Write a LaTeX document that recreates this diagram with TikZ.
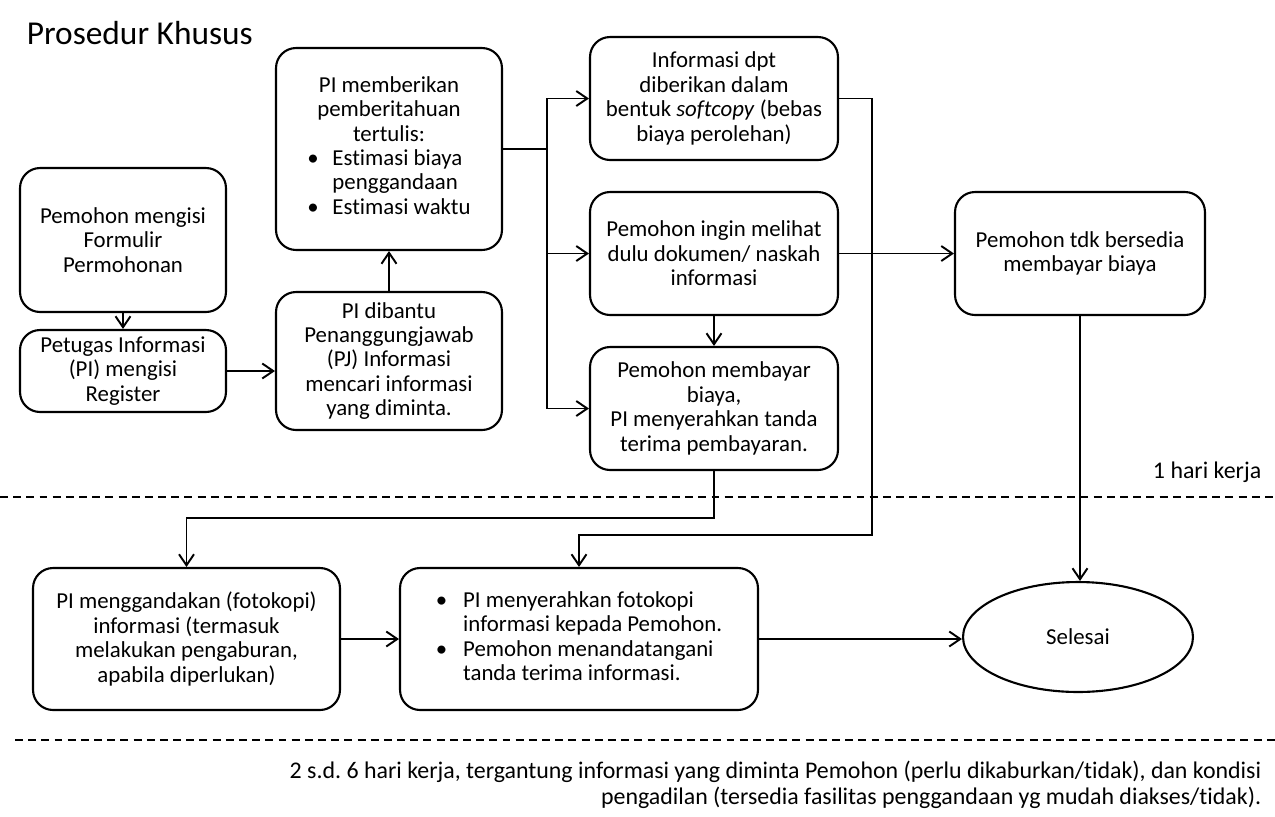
\documentclass[tikz,border=0pt]{standalone}
\usepackage{fontspec}
\setmainfont{Carlito}[Ligatures=NoCommon]
\usetikzlibrary{arrows.meta,shapes.geometric}
\frenchspacing

\begin{document}
\begin{tikzpicture}[x=0.02cm, y=-0.02cm, line width=1.1pt,
    every node/.style={font=\fontsize{13}{13.9}\selectfont},
    >={Straight Barb[length=2.2mm,width=3mm]},
    procbox/.style={draw, rounded corners=0.4cm, align=center, line width=1.2pt, inner sep=2pt},
    dashline/.style={dash pattern=on 4.5pt off 3pt, line width=1.2pt},
    note/.style={font=\fontsize{13.6}{14.8}\selectfont, align=right}]

    \useasboundingbox (0,0) rectangle (1275,816);

    % Title
    \node[anchor=west, font=\fontsize{19}{22}\selectfont] (title) at (20,33) {Prosedur Khusus};

    % Left column
    \node[procbox, minimum width=4.12cm, minimum height=2.88cm] (isi) at (123,240) {Pemohon mengisi\\Formulir\\Permohonan};
    \node[procbox, minimum width=4.12cm, minimum height=1.64cm] (reg) at (123,371) {Petugas Informasi\\(PI) mengisi\\Register};

    % Second column
    \node[procbox, minimum width=4.52cm, minimum height=2.76cm] (cari) at (389,361) {PI dibantu\\Penanggungjawab\\(PJ) Informasi\\mencari informasi\\yang diminta.};
    \node[procbox, minimum width=4.52cm, minimum height=4.04cm] (tulis) at (389,149) {PI memberikan\\pemberitahuan\\tertulis:\\
        \begin{tabular}[t]{@{}l@{\hspace{0.6em}}l@{}}\textbullet & Estimasi biaya\\ & penggandaan\\ \textbullet & Estimasi waktu\end{tabular}};

    % Third column
    \node[procbox, minimum width=4.96cm, minimum height=2.46cm] (soft) at (714,98.5) {Informasi dpt\\diberikan dalam\\bentuk \textit{softcopy} (bebas\\biaya perolehan)};
    \node[procbox, minimum width=4.96cm, minimum height=2.46cm] (lihat) at (714,253.5) {Pemohon ingin melihat\\dulu dokumen/ naskah\\informasi};
    \node[procbox, minimum width=4.96cm, minimum height=2.46cm] (bayar) at (714,408.5) {Pemohon membayar\\biaya,\\PI menyerahkan tanda\\terima pembayaran.};

    % Right column
    \node[procbox, minimum width=5cm, minimum height=2.46cm] (tolak) at (1080,253.5) {Pemohon tdk bersedia\\membayar biaya};

    % Lower row
    \node[procbox, minimum width=6.14cm, minimum height=2.84cm] (ganda) at (186.5,639) {PI menggandakan (fotokopi)\\informasi (termasuk\\melakukan pengaburan,\\apabila diperlukan)};
    \node[procbox, minimum width=7.16cm, minimum height=2.84cm] (serah) at (579,639) {\begin{tabular}{@{}l@{\hspace{0.7em}}l@{}}\textbullet & PI menyerahkan fotokopi\\ & informasi kepada Pemohon.\\ \textbullet & Pemohon menandatangani\\ & tanda terima informasi.\end{tabular}};
    \node[draw, ellipse, line width=1.2pt, minimum width=4.6cm, minimum height=2.2cm] (selesai) at (1078,637) {Selesai};

    % Time limits
    \draw[dashline] (0,497) -- (1275,497);
    \draw[dashline] (15,740) -- (1275,740);
    \node[note, anchor=east] (sehari) at (1268,472) {1 hari kerja};
    \node[note, anchor=east] (durasi) at (1268,785) {2 s.d. 6 hari kerja, tergantung informasi yang diminta Pemohon (perlu dikaburkan/tidak), dan kondisi\\pengadilan (tersedia fasilitas penggandaan yg mudah diakses/tidak).};

    % Connectors
    \coordinate (cabang) at (547,149);
    \coordinate (belok7) at (714,518);
    \coordinate (belok5) at (872,535);
    \draw[->] (isi) -- (reg);
    \draw[->] (reg.east) -- (reg.east -| cari.west);
    \draw[->] (cari) -- (tulis);
    \draw (tulis.east) -- (cabang);
    \draw[->] (cabang) |- (soft.west);
    \draw[->] (cabang) |- (lihat.west);
    \draw[->] (cabang) |- (bayar.west);
    \draw[->] (lihat) -- (bayar);
    \draw[->] (lihat) -- (tolak);
    \draw[->] (soft.east) -| (belok5) -| (serah.north);
    \draw[->] (bayar.south) -- (belok7) -| (ganda.north);
    \draw[->] (tolak.south) -- (tolak.south |- selesai.north);
    \draw[->] (ganda) -- (serah);
    \draw[->] (serah.east) -- (serah.east -| selesai.west);

\end{tikzpicture}
\end{document}
